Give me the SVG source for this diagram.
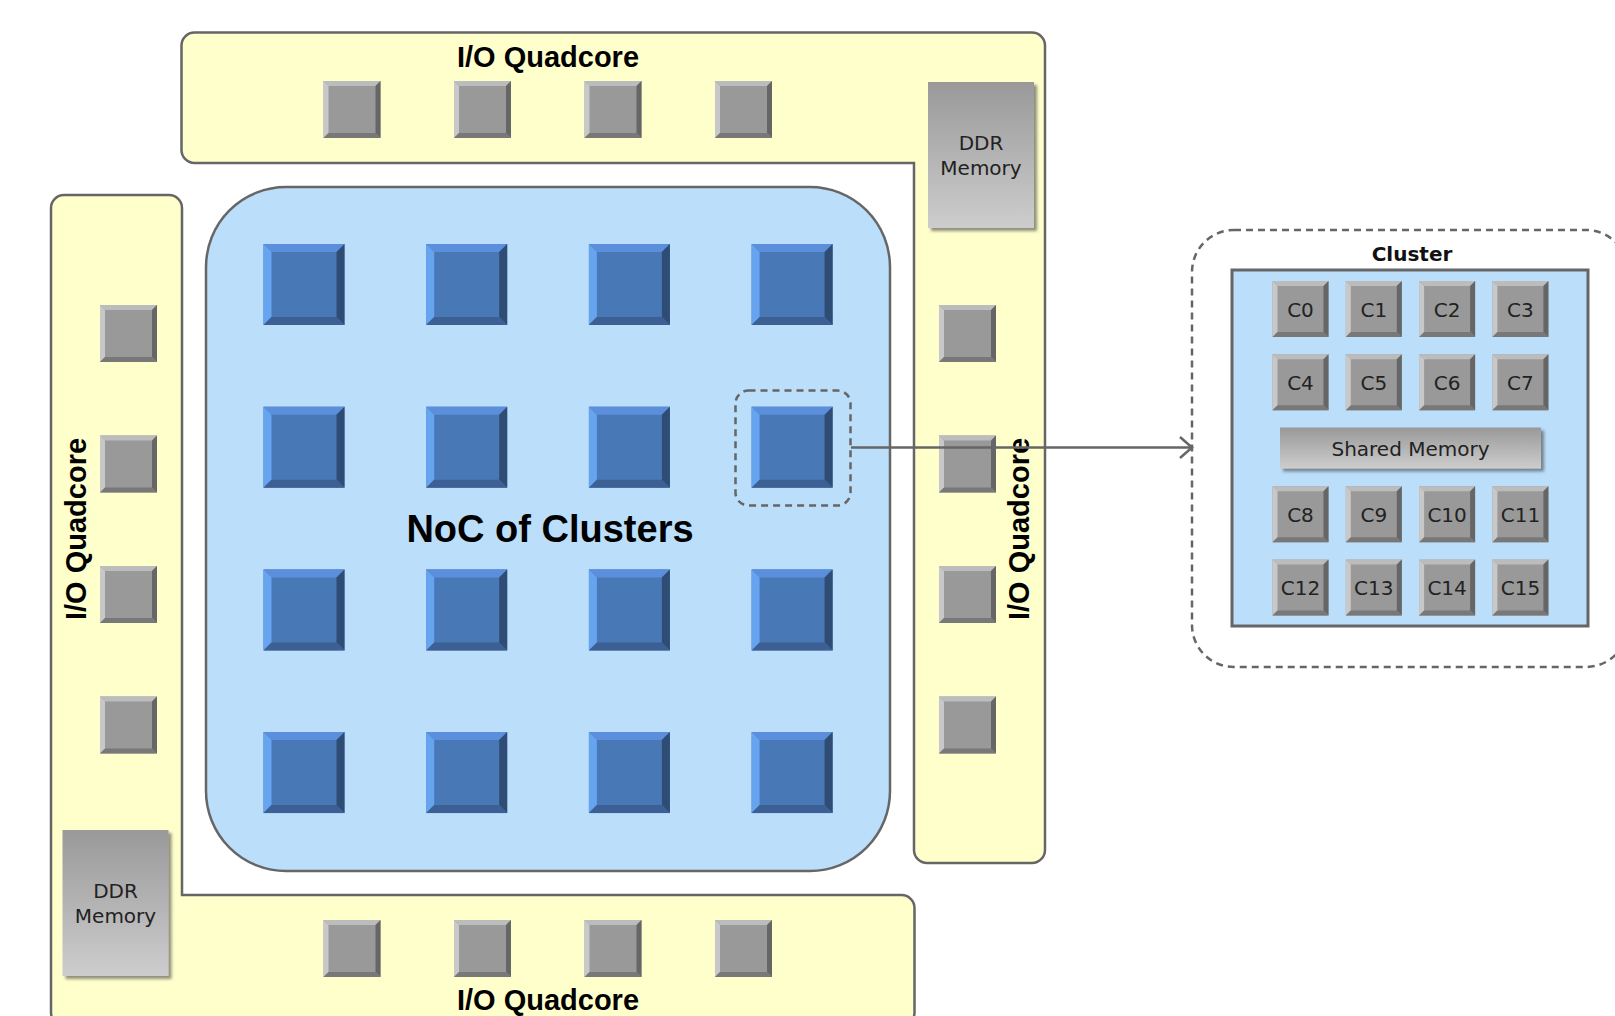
<svg xmlns="http://www.w3.org/2000/svg" width="1615" height="1016" viewBox="0 0 1615 1016">
<style>
.yel{fill:#ffffcc;stroke:#666;stroke-width:2.5}
.noc{fill:#bbdefb;stroke:#666;stroke-width:2.5}
.io{font-family:"Liberation Sans",Arial,sans-serif;font-weight:bold;font-size:29px;fill:#000;text-anchor:middle}
.big{font-family:"Liberation Sans",Arial,sans-serif;font-weight:bold;font-size:38px;fill:#000;text-anchor:middle}
.ddr{font-family:"DejaVu Sans",sans-serif;font-size:20px;fill:#222;text-anchor:middle}
.core{font-family:"DejaVu Sans",sans-serif;font-size:20px;fill:#222;text-anchor:middle}
.ctitle{font-family:"DejaVu Sans",sans-serif;font-weight:bold;font-size:20px;fill:#111;text-anchor:middle}
.dash{fill:none;stroke:#666;stroke-width:2.5;stroke-dasharray:7 5}
.conn{fill:none;stroke:#666;stroke-width:2.5}
</style>
<defs>
<linearGradient id="memg" x1="0" y1="0" x2="0" y2="1">
<stop offset="0" stop-color="#999"/>
<stop offset="1" stop-color="#cdcdcd"/>
</linearGradient>
<filter id="sh" x="-20%" y="-20%" width="140%" height="140%">
<feDropShadow dx="3" dy="3" stdDeviation="1.5" flood-color="#444" flood-opacity="0.6"/>
</filter>
<path id="lshape" d="M194.5 32.5 H1032 A13 13 0 0 1 1045 45.5 V850 A13 13 0 0 1 1032 863 H927 A13 13 0 0 1 914 850 V163 H194.5 A13 13 0 0 1 181.5 150 V45.5 A13 13 0 0 1 194.5 32.5 Z"/>
<g id="gsq">
<rect x="0" y="0" width="57" height="57" fill="#999"/>
<polygon points="0,0 57,0 52,5 5,5" fill="#bcbcbc"/>
<polygon points="0,0 5,5 5,52 0,57" fill="#c8c8c8"/>
<polygon points="57,0 57,57 52,52 52,5" fill="#666"/>
<polygon points="0,57 57,57 52,52 5,52" fill="#787878"/>
</g>
<g id="csq">
<rect x="0" y="0" width="56" height="56" fill="#999"/>
<polygon points="0,0 56,0 51,5 5,5" fill="#bcbcbc"/>
<polygon points="0,0 5,5 5,51 0,56" fill="#c8c8c8"/>
<polygon points="56,0 56,56 51,51 51,5" fill="#666"/>
<polygon points="0,56 56,56 51,51 5,51" fill="#787878"/>
</g>
<g id="bsq">
<rect x="0" y="0" width="81" height="81" fill="#4878b5"/>
<polygon points="0,0 81,0 73,8 8,8" fill="#5b8fdc"/>
<polygon points="0,0 8,8 8,73 0,81" fill="#66a4f0"/>
<polygon points="81,0 81,81 73,73 73,8" fill="#2f4c75"/>
<polygon points="0,81 81,81 73,73 8,73" fill="#3c5f94"/>
</g>
</defs>

<g id="io-top-right">
<use href="#lshape" class="yel"/>
</g>
<g id="io-bottom-left">
<use href="#lshape" class="yel" transform="rotate(180 548 529)"/>
</g>

<g id="noc">
<rect x="206" y="187" width="684" height="684" rx="80" class="noc"/>
</g>

<g id="noc-clusters">
<use href="#bsq" x="263.5" y="244"/><use href="#bsq" x="426.2" y="244"/><use href="#bsq" x="588.9" y="244"/><use href="#bsq" x="751.6" y="244"/>
<use href="#bsq" x="263.5" y="406.7"/><use href="#bsq" x="426.2" y="406.7"/><use href="#bsq" x="588.9" y="406.7"/><use href="#bsq" x="751.6" y="406.7"/>
<use href="#bsq" x="263.5" y="569.4"/><use href="#bsq" x="426.2" y="569.4"/><use href="#bsq" x="588.9" y="569.4"/><use href="#bsq" x="751.6" y="569.4"/>
<use href="#bsq" x="263.5" y="732.1"/><use href="#bsq" x="426.2" y="732.1"/><use href="#bsq" x="588.9" y="732.1"/><use href="#bsq" x="751.6" y="732.1"/>
</g>
<g id="noc-label">
<text x="550" y="542" class="big">NoC of Clusters</text>
</g>

<g id="io-top-cores">
<use href="#gsq" x="323.5" y="81"/><use href="#gsq" x="454" y="81"/><use href="#gsq" x="584.5" y="81"/><use href="#gsq" x="715" y="81"/>
<text x="548" y="66.5" class="io">I/O Quadcore</text>
</g>
<g id="io-bottom-cores">
<use href="#gsq" x="323.5" y="920"/><use href="#gsq" x="454" y="920"/><use href="#gsq" x="584.5" y="920"/><use href="#gsq" x="715" y="920"/>
<text x="548" y="1009.5" class="io">I/O Quadcore</text>
</g>
<g id="io-left-cores">
<use href="#gsq" x="100" y="305"/><use href="#gsq" x="100" y="435.5"/><use href="#gsq" x="100" y="566"/><use href="#gsq" x="100" y="696.5"/>
<text transform="translate(86 529) rotate(-90)" class="io">I/O Quadcore</text>
</g>
<g id="io-right-cores">
<use href="#gsq" x="939" y="305"/><use href="#gsq" x="939" y="435.5"/><use href="#gsq" x="939" y="566"/><use href="#gsq" x="939" y="696.5"/>
<text transform="translate(1029 529) rotate(-90)" class="io">I/O Quadcore</text>
</g>

<g id="ddr-top">
<rect x="928" y="82" width="106" height="146" fill="url(#memg)" filter="url(#sh)"/>
<text x="981" y="150" class="ddr">DDR</text>
<text x="981" y="175" class="ddr">Memory</text>
</g>
<g id="ddr-bottom">
<rect x="62.5" y="830" width="106" height="146" fill="url(#memg)" filter="url(#sh)"/>
<text x="115.5" y="898" class="ddr">DDR</text>
<text x="115.5" y="923" class="ddr">Memory</text>
</g>

<g id="highlight">
<rect x="735.5" y="390.5" width="115" height="115" rx="13" class="dash"/>
</g>

<g id="cluster-detail">
<rect x="1192" y="230" width="436" height="437" rx="42" class="dash"/>
<text x="1412" y="260.5" class="ctitle">Cluster</text>
<rect x="1232" y="270" width="356" height="356" fill="#bbdefb" stroke="#666" stroke-width="3"/>
</g>
<g id="cores">
<use href="#csq" x="1272.5" y="281"/><use href="#csq" x="1345.8" y="281"/><use href="#csq" x="1419.1" y="281"/><use href="#csq" x="1492.4" y="281"/>
<use href="#csq" x="1272.5" y="354.3"/><use href="#csq" x="1345.8" y="354.3"/><use href="#csq" x="1419.1" y="354.3"/><use href="#csq" x="1492.4" y="354.3"/>
<use href="#csq" x="1272.5" y="486.3"/><use href="#csq" x="1345.8" y="486.3"/><use href="#csq" x="1419.1" y="486.3"/><use href="#csq" x="1492.4" y="486.3"/>
<use href="#csq" x="1272.5" y="559.6"/><use href="#csq" x="1345.8" y="559.6"/><use href="#csq" x="1419.1" y="559.6"/><use href="#csq" x="1492.4" y="559.6"/>
<text x="1300.5" y="316.5" class="core">C0</text><text x="1373.8" y="316.5" class="core">C1</text><text x="1447.1" y="316.5" class="core">C2</text><text x="1520.4" y="316.5" class="core">C3</text>
<text x="1300.5" y="389.8" class="core">C4</text><text x="1373.8" y="389.8" class="core">C5</text><text x="1447.1" y="389.8" class="core">C6</text><text x="1520.4" y="389.8" class="core">C7</text>
<text x="1300.5" y="521.8" class="core">C8</text><text x="1373.8" y="521.8" class="core">C9</text><text x="1447.1" y="521.8" class="core">C10</text><text x="1520.4" y="521.8" class="core">C11</text>
<text x="1300.5" y="595.1" class="core">C12</text><text x="1373.8" y="595.1" class="core">C13</text><text x="1447.1" y="595.1" class="core">C14</text><text x="1520.4" y="595.1" class="core">C15</text>
</g>
<g id="shared-memory">
<rect x="1280" y="427.5" width="261" height="41" fill="url(#memg)" filter="url(#sh)"/>
<text x="1410.5" y="455.5" class="core">Shared Memory</text>
</g>

<g id="connectors">
<path d="M851 447.5 H1192" class="conn"/>
<path d="M1180 437 L1192 447.5 L1180 458" class="conn"/>
</g>
</svg>
